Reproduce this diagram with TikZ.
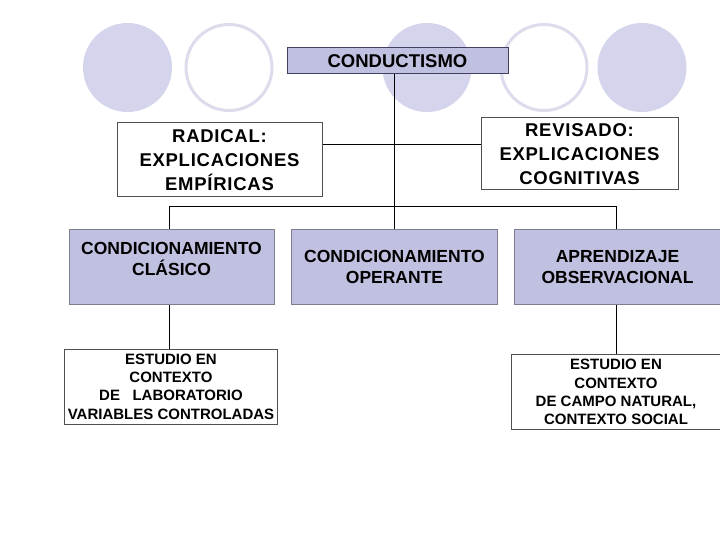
\documentclass[tikz,border=0pt]{standalone}
\usepackage{fontspec}
\setmainfont{Liberation Sans}
\definecolor{circfill}{HTML}{D4D4EC}
\definecolor{circline}{HTML}{DCDCEC}
\definecolor{lav}{HTML}{C0C0E0}
\definecolor{lavborder}{HTML}{7E7E90}
\definecolor{condborder}{HTML}{404060}
\definecolor{boxgray}{HTML}{505050}
\begin{document}
\begin{tikzpicture}[x=1pt,y=-1pt,
  wbox/.style={draw=boxgray, fill=white, line width=1pt, inner sep=0pt, align=center},
  lavbox/.style={draw=lavborder, fill=lav, line width=1pt, inner sep=0pt, align=center,
    minimum height=75, font=\fontsize{17.5}{21}\selectfont\bfseries},
  estbox/.style={wbox, minimum height=75, font=\fontsize{15}{18.3}\selectfont\bfseries},
  headbox/.style={wbox, font=\fontsize{18.5}{24}\selectfont\bfseries\addfontfeature{LetterSpace=4}},
  conn/.style={draw=black, line width=1pt},
  fullcirc/.style={fill=circfill, draw=none},
  ringcirc/.style={draw=circline, line width=3pt}]
\useasboundingbox (0,0) rectangle (720,540);
\fill[white] (0,0) rectangle (720,540);
% decorative circles
\path[fullcirc] (127.5,67.5) ellipse [x radius=44.5pt, y radius=44.5pt];
\path[ringcirc] (229,67.5) ellipse [x radius=43pt, y radius=43pt];
\path[fullcirc] (427,67.5) ellipse [x radius=44.5pt, y radius=44.5pt];
\path[ringcirc] (544,67.5) ellipse [x radius=43pt, y radius=43pt];
\path[fullcirc] (642,67.5) ellipse [x radius=44.5pt, y radius=44.5pt];
% nodes
\node[wbox, draw=condborder, fill=lav, minimum width=221, minimum height=26,
  font=\fontsize{18.5}{22}\selectfont\bfseries] (cond) at (397.5,61) {CONDUCTISMO};
\node[headbox, minimum width=205, minimum height=74]
  (rad) at (219.5,160) {RADICAL:\\EXPLICACIONES\\EMPÍRICAS};
\node[headbox, minimum width=197, minimum height=72]
  (rev) at (579.5,154) {REVISADO:\\EXPLICACIONES\\COGNITIVAS};
\node[lavbox, minimum width=205] (cla) at (171.5,267) {\rule{0pt}{16.5pt}CONDICIONAMIENTO\\CLÁSICO\\\mbox{}};
\node[lavbox, minimum width=206] (op) at (394.5,267) {CONDICIONAMIENTO\\OPERANTE};
\node[lavbox, minimum width=207] (obs) at (617.5,267) {APRENDIZAJE\\OBSERVACIONAL};
\node[estbox, minimum width=213] (est1) at (171,386.5)
  {ESTUDIO EN\\CONTEXTO\\DE\ \ \ LABORATORIO\\VARIABLES CONTROLADAS};
\node[estbox, minimum width=210] (est2) at (616,392)
  {ESTUDIO EN\\CONTEXTO\\DE CAMPO NATURAL,\\CONTEXTO SOCIAL};
% connectors
\coordinate (hl) at (395,145);
\coordinate (bl) at (169,207);
\coordinate (br) at (616,207);
\draw[conn] (cond.south -| op.north) -- (op.north);
\draw[conn] (hl -| rad.east) -- (hl -| rev.west);
\draw[conn] (bl |- cla.north) -- (bl) -- (br) -- (br |- obs.north);
\draw[conn] (bl |- cla.south) -- (bl |- est1.north);
\draw[conn] (br |- obs.south) -- (br |- est2.north);
\end{tikzpicture}
\end{document}
